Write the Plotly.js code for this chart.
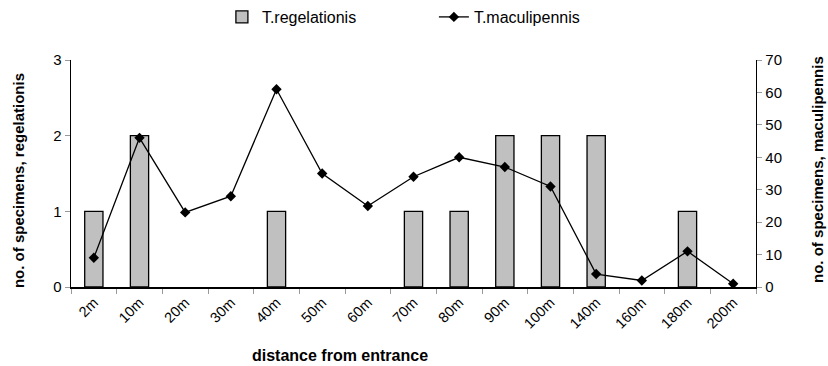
<!DOCTYPE html>
<html><head><meta charset="utf-8">
<script src="https://cdn.plot.ly/plotly-3.0.1.min.js"></script>
<style>html,body{margin:0;padding:0;background:#fff}#chart{width:828px;height:366px}</style>
</head><body><div id="chart"></div>
<script>
const categories = ["2m","10m","20m","30m","40m","50m","60m","70m","80m","90m","100m","140m","160m","180m","200m"];
const regelationis = [1,2,0,0,1,0,0,1,1,2,2,2,0,1,0];
const maculipennis = [9,46,23,28,61,35,25,34,40,37,31,4,2,11,1];
const xTitle = "distance from entrance";
const yTitle = "no. of specimens, regelationis";
const y2Title = "no. of specimens, maculipennis";

const font = "Liberation Sans, Arial, sans-serif";
const traces = [
  {type:"bar", name:"T.regelationis", x:categories, y:regelationis, yaxis:"y",
   width:0.4, marker:{color:"#c0c0c0", line:{color:"#000", width:regelationis.map(v => v ? 1.3 : 0)}}},
  {type:"scatter", mode:"lines+markers", name:"T.maculipennis", x:categories, y:maculipennis, yaxis:"y2",
   line:{color:"#000", width:1.3}, marker:{symbol:"diamond", size:8, color:"#000"}}
];
const titleFont = {family:font, size:15, color:"#000", weight:"bold"};
const layout = {
  width:828, height:366,
  margin:{l:71, r:72, t:60, b:79},
  paper_bgcolor:"#fff", plot_bgcolor:"#fff",
  font:{family:font, size:14, color:"#000"},
  showlegend:true,
  legend:{orientation:"h", xref:"container", yref:"container", x:0.268, xanchor:"left", y:1.0, yanchor:"top", font:{size:16},
          traceorder:"normal", entrywidth:167, entrywidthmode:"pixels"},
  xaxis:{type:"category", range:[-0.5, categories.length-0.5], automargin:false, showline:true, linecolor:"#000", linewidth:1.5, ticks:"outside", tickson:"boundaries",
         ticklen:5, tickcolor:"#999", tickangle:-45, showgrid:false, zeroline:false, layer:"above traces",
         tickfont:{size:14.5}},
  yaxis:{range:[0,3], dtick:1, automargin:false, showline:true, linecolor:"#000", linewidth:1.3, ticks:"outside", ticklen:5, tickcolor:"#999",
         showgrid:false, zeroline:false, tickfont:{size:15}},
  yaxis2:{range:[0,70], dtick:10, automargin:false, overlaying:"y", side:"right", showline:true, linecolor:"#000", linewidth:1.3,
          ticks:"outside", ticklen:5, tickcolor:"#999", showgrid:false, zeroline:false, tickfont:{size:15}},
  annotations:[
    {text:xTitle, xref:"paper", yref:"paper", x:0.393, y:-0.30, xanchor:"center", yanchor:"middle", showarrow:false, font:{...titleFont, size:16}},
    {text:yTitle, xref:"paper", yref:"paper", x:-0.0774, y:0.471, xanchor:"center", yanchor:"middle", textangle:-90, showarrow:false, font:titleFont},
    {text:y2Title, xref:"paper", yref:"paper", x:1.0905, y:0.52, xanchor:"center", yanchor:"middle", textangle:-90, showarrow:false, font:titleFont}
  ],
  bargap:0.6
};
Plotly.newPlot("chart", traces, layout, {displayModeBar:false, staticPlot:true});
</script></body></html>
